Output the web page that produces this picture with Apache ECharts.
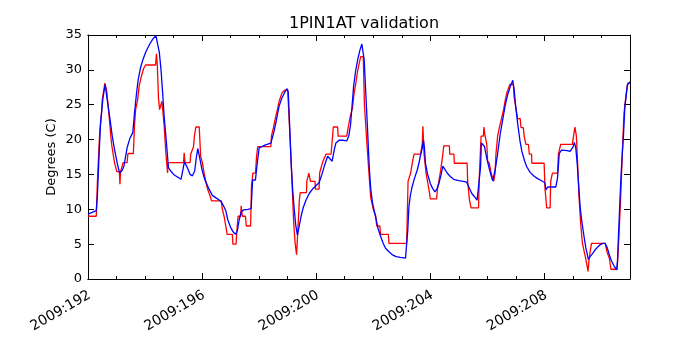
<!DOCTYPE html>
<html>
<head>
<meta charset="utf-8">
<script src="https://cdn.jsdelivr.net/npm/echarts@6/dist/echarts.min.js"></script>
<style>html,body{margin:0;padding:0;background:#fff}#c{width:700px;height:350px}</style>
</head>
<body>
<div id="c"></div>
<script>
const titleText = '1PIN1AT validation';
const yName = 'Degrees (C)';
const yearPrefix = '2009:';
const xMin = 192, xMax = 211, xMajor = 4, xMinor = 1;
const yMin = 0, yMax = 35, yStep = 5;

// Measured (red, step-like) series: [day, degC]
const measured = [
[192.0,9.0],[192.29,9.0],[192.33,14.0],[192.41,21.0],[192.47,23.5],[192.5,25.7],[192.56,25.7],[192.59,28.1],[192.65,28.1],[192.66,26.9],[192.73,26.9],[192.77,22.0],[192.81,20.0],[192.84,19.0],[192.91,19.0],[192.93,16.7],[193.0,16.7],[193.01,15.4],[193.1,15.4],[193.12,13.6],[193.14,15.4],[193.21,15.4],[193.23,16.7],[193.37,16.7],[193.4,18.0],[193.59,18.0],[193.63,22.0],[193.67,24.3],[193.74,25.7],[193.79,27.6],[193.86,28.9],[193.95,30.2],[194.02,30.7],[194.37,30.7],[194.4,32.3],[194.43,30.7],[194.47,26.0],[194.51,24.3],[194.57,24.3],[194.59,25.5],[194.64,25.5],[194.67,22.0],[194.73,18.0],[194.79,15.2],[194.81,16.7],[195.35,16.7],[195.37,18.1],[195.4,16.7],[195.58,16.7],[195.6,17.9],[195.67,17.9],[195.7,19.0],[195.73,20.5],[195.78,21.8],[195.9,21.8],[195.92,20.0],[195.95,17.6],[196.01,16.7],[196.07,15.2],[196.13,14.0],[196.19,12.9],[196.28,11.9],[196.33,11.2],[196.67,11.2],[196.71,10.0],[196.77,9.0],[196.83,7.6],[196.88,6.4],[197.06,6.4],[197.08,5.0],[197.19,5.0],[197.21,6.4],[197.26,9.0],[197.35,9.0],[197.37,10.5],[197.41,9.0],[197.52,9.0],[197.55,7.6],[197.7,7.6],[197.73,13.3],[197.78,15.2],[197.87,15.2],[197.91,17.6],[197.95,19.0],[198.41,19.0],[198.43,20.5],[198.5,21.7],[198.57,23.1],[198.64,24.3],[198.7,25.5],[198.8,26.7],[198.9,27.1],[199.0,27.1],[199.12,17.0],[199.21,8.1],[199.26,5.2],[199.31,3.5],[199.35,6.4],[199.37,8.1],[199.41,11.4],[199.44,12.4],[199.66,12.4],[199.67,14.0],[199.73,14.0],[199.74,15.2],[199.79,15.2],[199.8,14.0],[199.96,14.0],[199.97,12.9],[200.1,12.9],[200.12,15.2],[200.22,16.7],[200.34,17.9],[200.52,17.9],[200.6,21.8],[200.75,21.8],[200.77,20.5],[201.07,20.5],[201.12,21.7],[201.19,23.3],[201.27,24.5],[201.33,26.7],[201.39,28.1],[201.45,29.8],[201.51,31.0],[201.56,31.9],[201.65,31.9],[201.69,25.0],[201.8,18.0],[201.91,11.7],[201.97,11.7],[202.0,10.0],[202.09,9.0],[202.12,7.6],[202.23,7.6],[202.26,6.4],[202.53,6.4],[202.55,5.1],[203.17,5.1],[203.22,14.0],[203.31,15.2],[203.37,16.7],[203.43,17.9],[203.66,17.9],[203.72,19.5],[203.74,21.9],[203.78,18.0],[203.85,15.2],[203.95,12.9],[204.0,11.5],[204.22,11.5],[204.25,12.9],[204.3,14.0],[204.36,15.5],[204.44,17.9],[204.47,19.1],[204.67,19.1],[204.68,17.9],[204.83,17.9],[204.84,16.6],[205.29,16.6],[205.31,14.0],[205.37,11.4],[205.43,10.2],[205.69,10.2],[205.72,15.0],[205.78,20.5],[205.86,20.5],[205.88,21.8],[205.92,20.5],[205.98,19.3],[206.01,16.9],[206.07,16.6],[206.13,15.2],[206.22,14.0],[206.27,15.2],[206.3,17.9],[206.36,20.5],[206.42,21.7],[206.48,21.7],[206.57,24.3],[206.62,25.5],[206.68,26.7],[206.75,26.7],[206.79,27.9],[206.91,27.9],[206.94,26.0],[207.0,24.5],[207.06,23.0],[207.15,23.0],[207.18,21.7],[207.26,21.7],[207.29,20.5],[207.35,19.3],[207.44,19.3],[207.47,17.9],[207.55,17.9],[207.56,16.6],[207.99,16.6],[208.02,13.0],[208.08,10.2],[208.2,10.2],[208.22,14.0],[208.28,15.2],[208.46,15.2],[208.49,17.9],[208.57,19.3],[208.98,19.3],[209.02,20.5],[209.07,21.8],[209.12,20.5],[209.16,17.0],[209.21,12.0],[209.27,8.0],[209.33,5.2],[209.39,4.0],[209.45,2.9],[209.51,2.9],[209.53,1.1],[209.56,2.6],[209.6,3.8],[209.65,5.1],[210.13,5.1],[210.2,3.8],[210.28,2.9],[210.33,1.4],[210.55,1.4],[210.61,6.0],[210.67,11.5],[210.74,19.0],[210.79,23.8],[210.87,26.7],[210.92,28.1],[211.0,28.1]
];

// Model (blue, smooth) series: [day, degC]
const model = [
[192.0,9.3],[192.29,9.8],[192.33,12.0],[192.38,17.0],[192.44,22.4],[192.52,25.8],[192.6,27.9],[192.68,25.5],[192.76,23.3],[192.85,20.5],[192.93,18.6],[193.03,16.5],[193.11,15.2],[193.2,15.6],[193.26,16.2],[193.37,18.8],[193.47,20.2],[193.57,21.0],[193.63,23.8],[193.7,26.6],[193.76,28.6],[193.84,30.3],[193.92,31.4],[194.03,32.6],[194.15,33.6],[194.27,34.4],[194.38,34.9],[194.44,34.9],[194.5,32.5],[194.56,30.0],[194.62,26.5],[194.67,23.3],[194.75,19.5],[194.82,16.0],[194.88,15.6],[195.0,15.0],[195.15,14.6],[195.26,14.3],[195.32,15.5],[195.38,16.8],[195.48,16.0],[195.58,15.0],[195.66,14.8],[195.74,15.5],[195.8,17.5],[195.85,18.7],[195.92,17.3],[196.0,15.6],[196.1,14.2],[196.23,13.0],[196.36,12.0],[196.5,11.6],[196.65,11.2],[196.75,10.5],[196.83,9.8],[196.9,8.5],[197.01,7.3],[197.1,6.7],[197.17,6.4],[197.24,7.0],[197.3,8.5],[197.37,9.6],[197.45,9.9],[197.6,10.0],[197.72,10.1],[197.77,14.2],[197.82,14.3],[197.87,14.2],[197.93,16.5],[198.0,18.8],[198.2,19.2],[198.41,19.5],[198.5,20.8],[198.6,22.7],[198.7,24.8],[198.8,26.0],[198.9,26.8],[198.98,27.3],[199.02,26.8],[199.08,21.0],[199.12,16.7],[199.18,12.5],[199.23,10.0],[199.28,7.8],[199.34,6.3],[199.4,7.5],[199.47,9.0],[199.55,10.3],[199.64,11.3],[199.76,12.3],[199.87,12.9],[200.0,13.4],[200.1,13.8],[200.2,15.0],[200.3,16.4],[200.4,17.6],[200.47,17.4],[200.56,16.9],[200.63,18.5],[200.69,19.5],[200.8,19.9],[200.95,19.9],[201.07,19.8],[201.14,20.5],[201.2,22.0],[201.26,25.0],[201.31,27.6],[201.38,29.8],[201.45,31.4],[201.53,32.8],[201.6,33.7],[201.63,33.8],[201.68,31.5],[201.74,26.5],[201.8,21.4],[201.86,16.0],[201.91,13.0],[201.97,11.0],[202.08,8.9],[202.17,7.2],[202.26,6.1],[202.35,5.1],[202.43,4.4],[202.55,3.9],[202.66,3.5],[202.8,3.2],[202.95,3.1],[203.13,3.0],[203.17,2.9],[203.21,7.0],[203.25,10.4],[203.3,12.0],[203.36,13.2],[203.45,14.5],[203.54,15.6],[203.6,16.6],[203.66,17.8],[203.72,18.8],[203.76,19.9],[203.79,19.0],[203.83,16.6],[203.9,15.1],[204.0,13.7],[204.08,13.0],[204.16,12.5],[204.23,12.9],[204.3,13.7],[204.38,15.0],[204.44,16.2],[204.5,15.8],[204.59,15.2],[204.7,14.7],[204.82,14.3],[205.0,14.1],[205.15,14.0],[205.27,13.9],[205.35,13.2],[205.45,12.3],[205.55,11.8],[205.64,11.3],[205.7,11.2],[205.76,16.0],[205.79,19.5],[205.85,19.3],[205.9,19.0],[205.97,17.5],[206.05,16.1],[206.12,15.0],[206.19,14.1],[206.22,14.2],[206.28,15.8],[206.36,18.0],[206.45,20.8],[206.54,22.9],[206.62,24.8],[206.71,26.4],[206.8,27.6],[206.86,28.2],[206.89,28.5],[206.94,27.1],[207.0,24.5],[207.06,22.4],[207.14,19.9],[207.21,18.3],[207.3,17.0],[207.38,16.1],[207.5,15.3],[207.62,14.8],[207.76,14.4],[207.9,14.1],[207.97,14.0],[208.02,13.8],[208.05,12.8],[208.12,13.2],[208.25,13.2],[208.4,13.2],[208.46,14.5],[208.52,18.0],[208.6,18.5],[208.67,18.6],[208.8,18.4],[208.9,18.3],[209.0,18.9],[209.05,19.6],[209.1,18.8],[209.15,16.5],[209.2,13.5],[209.25,10.4],[209.31,8.3],[209.37,6.6],[209.45,4.5],[209.54,2.8],[209.6,3.2],[209.7,3.7],[209.78,4.2],[209.87,4.6],[209.95,4.9],[210.05,5.1],[210.13,5.1],[210.2,4.5],[210.28,3.4],[210.34,2.7],[210.45,1.8],[210.53,1.3],[210.56,2.5],[210.59,5.6],[210.64,10.5],[210.69,15.2],[210.73,18.0],[210.77,20.5],[210.82,24.7],[210.91,27.8],[211.0,28.3]
];

const FONT = 'DejaVu Sans';
const chart = echarts.init(document.getElementById('c'), null, {renderer: 'canvas'});

function xAxisDef(position, interval, tickLen, labels) {
  return {
    type: 'value', min: xMin, max: xMax, interval: interval, position: position,
    axisLine: {show: true, onZero: false, lineStyle: {color: '#000', width: 1}},
    axisTick: {show: true, inside: true, length: tickLen, lineStyle: {color: '#000', width: 1}},
    splitLine: {show: false},
    axisLabel: labels ? {
      show: true, rotate: 30, margin: 8, color: '#000', fontFamily: FONT, fontSize: 14,
      align: 'right', verticalAlign: 'top', padding: [0, 2, 0, 0],
      hideOverlap: false,
      formatter: v => (v % xMajor === 0 && v < xMax) ? yearPrefix + v : ''
    } : {show: false}
  };
}
function yAxisDef(position, labels) {
  return {
    type: 'value', min: yMin, max: yMax, interval: yStep, position: position,
    name: labels ? yName : '', nameLocation: 'middle', nameGap: 30, nameRotate: 90,
    nameMoveOverlap: false,
    nameTextStyle: {color: '#000', fontFamily: FONT, fontSize: 13},
    axisLine: {show: true, onZero: false, lineStyle: {color: '#000', width: 1}},
    axisTick: {show: true, inside: true, length: 6, lineStyle: {color: '#000', width: 1}},
    splitLine: {show: false},
    axisLabel: labels ? {show: true, margin: 6, color: '#000', fontFamily: FONT, fontSize: 13} : {show: false}
  };
}

chart.setOption({
  animation: false,
  backgroundColor: '#fff',
  title: {
    text: titleText, left: 359, top: 11, textAlign: 'center',
    textStyle: {color: '#000', fontFamily: FONT, fontSize: 16, fontWeight: 'normal'}
  },
  grid: {left: 88, top: 35, width: 542, height: 244, containLabel: false},
  xAxis: [
    xAxisDef('bottom', xMajor, 6, true),
    xAxisDef('bottom', xMinor, 3, false),
    xAxisDef('top', xMajor, 6, false),
    xAxisDef('top', xMinor, 3, false)
  ],
  yAxis: [yAxisDef('left', true), yAxisDef('right', false)],
  series: [
    {type: 'line', data: measured, xAxisIndex: 0, yAxisIndex: 0, showSymbol: false,
     lineStyle: {color: '#ff0000', width: 1.3}, itemStyle: {color: '#ff0000'}},
    {type: 'line', data: model, xAxisIndex: 0, yAxisIndex: 0, showSymbol: false,
     lineStyle: {color: '#0000ff', width: 1.3}, itemStyle: {color: '#0000ff'}}
  ]
});
</script>
</body>
</html>
